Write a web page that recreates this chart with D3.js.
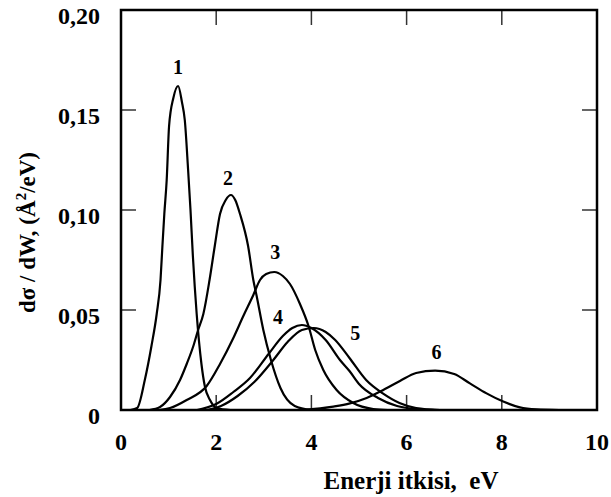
<!DOCTYPE html>
<html>
<head>
<meta charset="utf-8">
<script src="https://cdn.jsdelivr.net/npm/d3@7"></script>
<style>
  body { margin: 0; background: #fff; }
  text { font-family: "Liberation Serif", "Times New Roman", serif; font-weight: bold; fill: #000; }
</style>
</head>
<body>
<div id="chart"></div>
<script>
// Energy loss spectra: [eV, value]
const curve1 = [[0.2,0],[0.34,0.001],[0.5,0.015],[0.64,0.032],[0.75,0.048],[0.83,0.065],[0.87,0.082],[0.91,0.098],[0.96,0.115],[1.01,0.142],[1.1,0.156],[1.2,0.162],[1.28,0.154],[1.34,0.145],[1.41,0.12],[1.46,0.10],[1.51,0.077],[1.59,0.048],[1.69,0.023],[1.76,0.012],[1.87,0.005],[2.01,0.001],[2.3,0]];
const curve2 = [[0.6,0],[0.82,0.0015],[1.03,0.0065],[1.24,0.015],[1.38,0.023],[1.52,0.032],[1.62,0.04],[1.73,0.048],[1.86,0.065],[1.97,0.082],[2.08,0.098],[2.2,0.105],[2.31,0.1075],[2.4,0.105],[2.5,0.098],[2.67,0.082],[2.78,0.065],[2.85,0.057],[2.99,0.04],[3.15,0.025],[3.35,0.011],[3.65,0.002],[4.0,0]];
const curve3 = [[0.8,0],[1.03,0.001],[1.38,0.005],[1.8,0.012],[2.08,0.023],[2.36,0.036],[2.57,0.047],[2.78,0.0575],[2.92,0.065],[3.05,0.068],[3.22,0.069],[3.4,0.067],[3.55,0.063],[3.76,0.053],[3.94,0.042],[4.08,0.030],[4.25,0.020],[4.53,0.010],[4.88,0.0035],[5.3,0.0005],[5.6,0]];
const curve4 = [[1.6,0],[2.0,0.003],[2.36,0.009],[2.71,0.016],[3.1,0.028],[3.4,0.037],[3.6,0.041],[3.8,0.0425],[4.0,0.041],[4.3,0.035],[4.6,0.025],[4.8,0.0195],[5.0,0.013],[5.4,0.006],[5.8,0.002],[6.2,0.0005],[6.6,0]];
const curve5 = [[1.8,0],[2.1,0.002],[2.45,0.007],[2.8,0.014],[3.2,0.025],[3.5,0.034],[3.8,0.040],[4.05,0.041],[4.3,0.039],[4.5,0.035],[4.8,0.026],[5.15,0.015],[5.5,0.0083],[5.85,0.0035],[6.2,0.001],[6.7,0]];
const curve6 = [[3.8,0],[4.46,0.0017],[4.81,0.0033],[5.16,0.006],[5.51,0.010],[5.86,0.0145],[6.2,0.0185],[6.6,0.0197],[7.0,0.018],[7.33,0.0133],[7.68,0.0083],[8.03,0.0042],[8.38,0.0013],[8.73,0.0003],[9.2,0]];
const curves = [curve1, curve2, curve3, curve4, curve5, curve6];

const labelNames = ['1', '2', '3', '4', '5', '6'];
const labelPos = [[1.2, 0.1715], [2.25, 0.116], [3.24, 0.079], [3.3, 0.0465], [4.92, 0.0385], [6.63, 0.029]];

const xTicks = [0, 2, 4, 6, 8, 10];
const yTicks = [0, 0.05, 0.10, 0.15, 0.20];
const yTickLabels = ['0', '0,05', '0,10', '0,15', '0,20'];

const width = 611, height = 497;
const margin = { top: 10, right: 14, bottom: 87, left: 121 };

const svg = d3.select('#chart').append('svg')
  .attr('width', width)
  .attr('height', height);

const x = d3.scaleLinear().domain([0, 10]).range([margin.left, width - margin.right]);
const y = d3.scaleLinear().domain([0, 0.20]).range([height - margin.bottom, margin.top]);

svg.append('clipPath').attr('id', 'plot')
  .append('rect')
  .attr('x', x(0)).attr('y', y(0.2))
  .attr('width', x(10) - x(0)).attr('height', y(0) - y(0.2));

// inward ticks on all four sides
const tickLen = 15;
const inner = svg.append('g').attr('stroke', '#333').attr('stroke-width', 1.5);
xTicks.slice(1, -1).forEach(t => {
  inner.append('line').attr('x1', x(t)).attr('x2', x(t)).attr('y1', y(0)).attr('y2', y(0) - tickLen);
  inner.append('line').attr('x1', x(t)).attr('x2', x(t)).attr('y1', y(0.2)).attr('y2', y(0.2) + tickLen);
});
yTicks.slice(1, -1).forEach(t => {
  inner.append('line').attr('y1', y(t)).attr('y2', y(t)).attr('x1', x(0)).attr('x2', x(0) + tickLen);
  inner.append('line').attr('y1', y(t)).attr('y2', y(t)).attr('x1', x(10)).attr('x2', x(10) - tickLen);
});

// curves
const line = d3.line()
  .x(d => x(d[0]))
  .y(d => y(d[1]))
  .curve(d3.curveMonotoneX);

svg.append('g').attr('clip-path', 'url(#plot)')
  .selectAll('path')
  .data(curves)
  .enter()
  .append('path')
  .attr('d', line)
  .attr('fill', 'none')
  .attr('stroke', '#000')
  .attr('stroke-width', 2.2);

// frame
svg.append('rect')
  .attr('x', x(0)).attr('y', y(0.2))
  .attr('width', x(10) - x(0)).attr('height', y(0) - y(0.2))
  .attr('fill', 'none')
  .attr('stroke', '#000')
  .attr('stroke-width', 2.5);

// tick labels
svg.selectAll('.xlab')
  .data(xTicks)
  .enter()
  .append('text')
  .attr('class', 'xlab')
  .attr('x', d => x(d))
  .attr('y', y(0) + 40)
  .attr('text-anchor', 'middle')
  .style('font-size', '24px')
  .text(d => d);

svg.selectAll('.ylab')
  .data(yTicks)
  .enter()
  .append('text')
  .attr('class', 'ylab')
  .attr('x', 100)
  .attr('y', d => y(d) + 14)
  .attr('text-anchor', 'end')
  .style('font-size', '24px')
  .text((d, i) => yTickLabels[i]);

// curve numbers
svg.selectAll('.num')
  .data(labelNames)
  .enter()
  .append('text')
  .attr('class', 'num')
  .attr('x', (d, i) => x(labelPos[i][0]))
  .attr('y', (d, i) => y(labelPos[i][1]) + 7)
  .attr('text-anchor', 'middle')
  .style('font-size', '20px')
  .text(d => d);

// axis titles
svg.append('text')
  .attr('x', 411)
  .attr('y', 489)
  .attr('text-anchor', 'middle')
  .style('font-size', '25px')
  .style('white-space', 'pre')
  .text('Enerji itkisi,  eV');

const yTitle = svg.append('text')
  .attr('transform', 'translate(35,313) rotate(-90)')
  .attr('text-anchor', 'start')
  .style('font-size', '23px')
  .style('white-space', 'pre');
yTitle.append('tspan').text('dσ / dW, (Å');
yTitle.append('tspan').attr('dy', -9).style('font-size', '15px').text('2');
yTitle.append('tspan').attr('dy', 9).text('/eV)');
</script>
</body>
</html>
